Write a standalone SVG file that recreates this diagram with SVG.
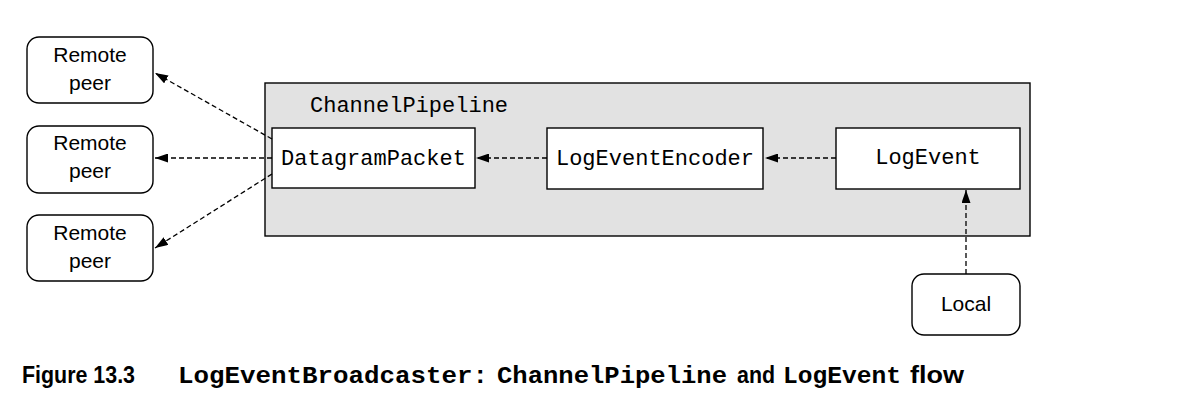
<svg xmlns="http://www.w3.org/2000/svg" width="1204" height="414" viewBox="0 0 1204 414">
<defs>
<style>
.box{fill:#fff;stroke:#000;stroke-width:1.4}
.cont{fill:#e2e2e2;stroke:#000;stroke-width:1.4}
.mono{font-family:"Liberation Mono","Courier New",monospace;font-size:22px;fill:#000}
.sans{font-family:"Liberation Sans",Arial,sans-serif;font-size:21px;fill:#000}
.conn{fill:none;stroke:#000;stroke-width:1.3;stroke-dasharray:5 3}
.capb{font-family:"Liberation Sans",Arial,sans-serif;font-size:24px;font-weight:bold;fill:#000}
.capm{font-family:"Liberation Mono","Courier New",monospace;font-size:24px;font-weight:bold;fill:#000}
</style>
<marker id="ah" viewBox="0 0 13 9" refX="13" refY="4.5" markerWidth="13" markerHeight="9" markerUnits="userSpaceOnUse" orient="auto">
<path d="M0,0 L13,4.5 L0,9 Z" fill="#000"/>
</marker>
</defs>
<g id="pipeline">
<rect class="cont" x="265" y="83" width="765" height="153"/>
<text class="mono" x="310" y="112">ChannelPipeline</text>
</g>
<g id="peer1">
<rect class="box" x="27" y="37" width="126" height="66" rx="12"/>
<text class="sans" x="90" y="62" text-anchor="middle">Remote</text>
<text class="sans" x="90" y="90" text-anchor="middle">peer</text>
</g>
<g id="peer2">
<rect class="box" x="27" y="126" width="126" height="67" rx="12"/>
<text class="sans" x="90" y="150" text-anchor="middle">Remote</text>
<text class="sans" x="90" y="178" text-anchor="middle">peer</text>
</g>
<g id="peer3">
<rect class="box" x="27" y="215" width="126" height="66" rx="12"/>
<text class="sans" x="90" y="240" text-anchor="middle">Remote</text>
<text class="sans" x="90" y="268" text-anchor="middle">peer</text>
</g>
<g id="datagram">
<rect class="box" x="272" y="128" width="203" height="60"/>
<text class="mono" x="373.5" y="165" text-anchor="middle">DatagramPacket</text>
</g>
<g id="encoder">
<rect class="box" x="547" y="128" width="216" height="61"/>
<text class="mono" x="655" y="165" text-anchor="middle">LogEventEncoder</text>
</g>
<g id="logevent">
<rect class="box" x="836" y="128" width="184" height="61"/>
<text class="mono" x="928" y="164" text-anchor="middle">LogEvent</text>
</g>
<g id="local">
<rect class="box" x="912" y="274" width="108" height="61" rx="12"/>
<text class="sans" x="966" y="311" text-anchor="middle">Local</text>
</g>
<g id="connectors">
<line class="conn" x1="272" y1="139" x2="155" y2="73" marker-end="url(#ah)"/>
<line class="conn" x1="272" y1="158" x2="155" y2="158" marker-end="url(#ah)"/>
<line class="conn" x1="272" y1="174" x2="155" y2="248" marker-end="url(#ah)"/>
<line class="conn" x1="547" y1="158" x2="476" y2="158" marker-end="url(#ah)"/>
<line class="conn" x1="836" y1="158" x2="765" y2="158" marker-end="url(#ah)"/>
<line class="conn" x1="966" y1="274" x2="966" y2="190" marker-end="url(#ah)"/>
</g>
<g id="caption">
<text class="capb" x="22" y="383" textLength="113" lengthAdjust="spacingAndGlyphs">Figure 13.3</text>
<text class="capm" x="178" y="383" textLength="310" lengthAdjust="spacingAndGlyphs">LogEventBroadcaster:</text>
<text class="capm" x="497" y="383" textLength="230" lengthAdjust="spacingAndGlyphs">ChannelPipeline</text>
<text class="capb" x="737" y="383" textLength="38" lengthAdjust="spacingAndGlyphs">and</text>
<text class="capm" x="783" y="383" textLength="118" lengthAdjust="spacingAndGlyphs">LogEvent</text>
<text class="capb" x="910" y="383" textLength="54" lengthAdjust="spacingAndGlyphs">flow</text>
</g>
</svg>
